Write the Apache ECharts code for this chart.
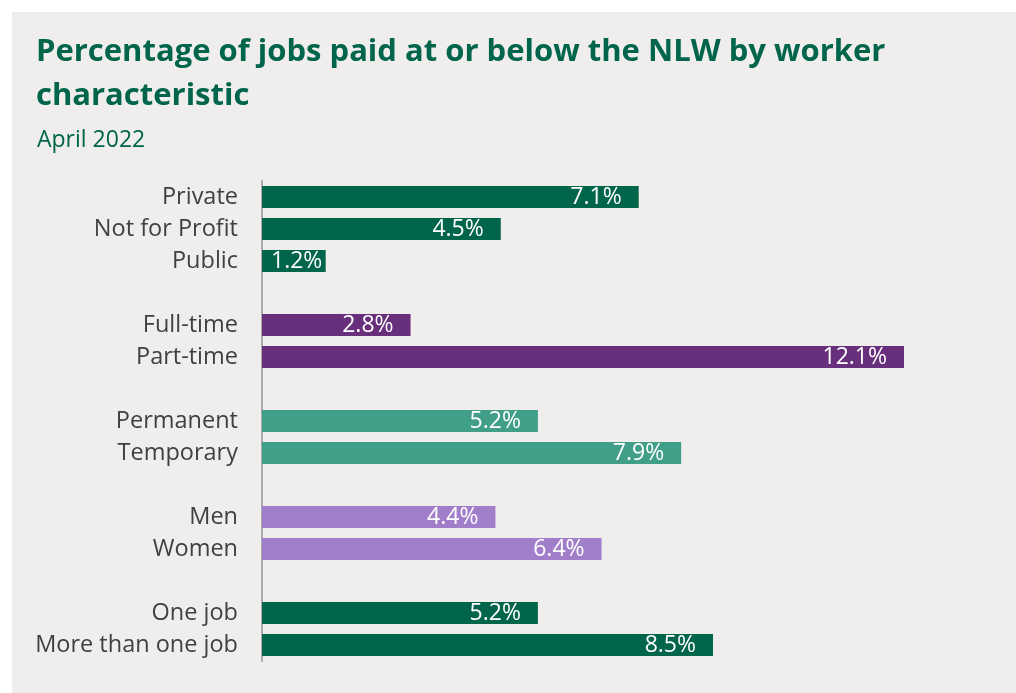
<!DOCTYPE html>
<html>
<head>
<meta charset="utf-8">
<script src="https://cdn.jsdelivr.net/npm/echarts@6/dist/echarts.min.js"></script>
<style>
  html, body { margin: 0; padding: 0; background: #ffffff; }
  #frame { position: absolute; left: 12px; top: 12px; width: 1004px; height: 681px; background: #efeeed; }
  #chart { position: absolute; left: 0; top: 0; width: 1016px; height: 693px; }
</style>
</head>
<body>
<div id="frame"></div>
<div id="chart"></div>
<script>
// Worker characteristics, with blank spacer rows between groups
const categories = [
  'Private', 'Not for Profit', 'Public', ' ',
  'Full-time', 'Part-time', '  ',
  'Permanent', 'Temporary', '   ',
  'Men', 'Women', '    ',
  'One job', 'More than one job'
];
// Percentage of jobs paid at or below the NLW (null = spacer row)
const values = [
  7.1, 4.5, 1.2, null,
  2.8, 12.1, null,
  5.2, 7.9, null,
  4.4, 6.4, null,
  5.2, 8.5
];
// Colour group for each row
const groupOf = [0, 0, 0, -1, 1, 1, -1, 2, 2, -1, 3, 3, -1, 0, 0];
const groupColors = ['#00654a', '#682f7c', '#419e89', '#a17eca'];

const FONT = '"Open Sans", "Noto Sans", sans-serif';

const barData = values.map((v, i) => {
  if (v === null) return null;
  const item = { value: v, itemStyle: { color: groupColors[groupOf[i]] } };
  if (v < 2) {
    item.label = { position: 'insideLeft', distance: 9 };
  }
  return item;
});

const chart = echarts.init(document.getElementById('chart'), null, { renderer: 'canvas' });
chart.setOption({
  backgroundColor: 'transparent',
  animation: false,
  title: [
    {
      text: 'Percentage of jobs paid at or below the NLW by worker\ncharacteristic',
      left: 31, top: 25,
      textStyle: { fontFamily: FONT, fontWeight: 'bold', fontSize: 31, lineHeight: 44, color: '#00654a' }
    },
    {
      text: 'April 2022',
      left: 32, top: 124,
      textStyle: { fontFamily: FONT, fontWeight: 'normal', fontSize: 23, color: '#00654a' }
    }
  ],
  grid: { left: 262, right: 112, top: 181, bottom: 32, containLabel: false },
  xAxis: {
    type: 'value', min: 0, max: 12.1,
    show: false
  },
  yAxis: {
    type: 'category', inverse: true, data: categories,
    axisLine: { show: true, lineStyle: { color: '#aaaaaa', width: 2 } },
    axisTick: { show: false },
    axisLabel: { margin: 24, fontFamily: FONT, fontSize: 23.5, color: '#404040' }
  },
  series: [{
    type: 'bar',
    data: barData,
    barWidth: 22,
    label: {
      show: true, position: 'insideRight', distance: 17,
      formatter: p => p.value.toFixed(1) + '%',
      fontFamily: FONT, fontSize: 23, color: '#ffffff'
    }
  }]
});
</script>
</body>
</html>
